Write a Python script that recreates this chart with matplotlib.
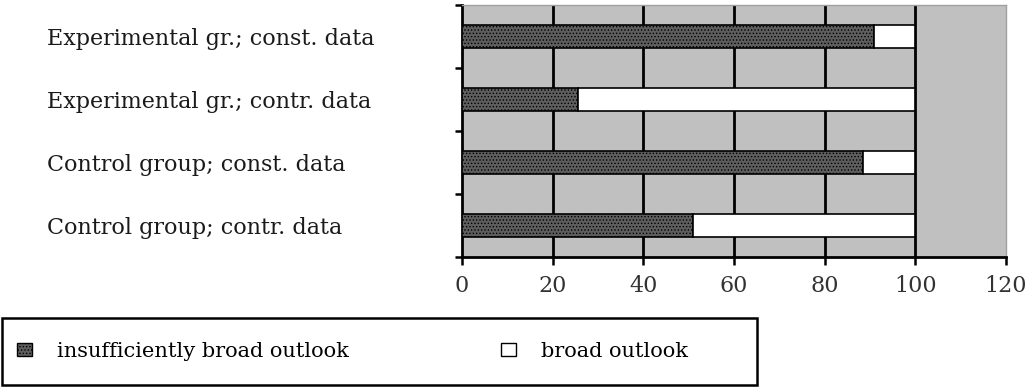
import matplotlib
matplotlib.use("Agg")
import matplotlib.pyplot as plt
from matplotlib.patches import Rectangle, Patch
import numpy as np

categories = ["Experimental gr.; const. data",
              "Experimental gr.; contr. data",
              "Control group; const. data",
              "Control group; contr. data"]
insufficient = [91, 25.5, 88.5, 51]
broad = [9, 74.5, 11.5, 49]
xticks = [0, 20, 40, 60, 80, 100, 120]
series_names = ["insufficiently broad outlook", "broad outlook"]

plt.rcParams['font.family'] = ['DejaVu Serif', 'Liberation Serif']
plt.rcParams['hatch.color'] = '#3a3a3a'
plt.rcParams['hatch.linewidth'] = 0.6

fig = plt.figure(figsize=(10.30, 3.87), dpi=100)
ax = fig.add_axes([0.4485, 0.336, 0.528, 0.651])
ax.set_facecolor('#c0c0c0')

n = len(categories)
pos = np.arange(n)[::-1].astype(float)  # top to bottom
h = 0.36

for x in xticks[1:-1]:
    ax.axvline(x, color='black', lw=2, zorder=1)

ax.barh(pos, insufficient, height=h, color='#5e5e5e', edgecolor='black',
        lw=1.2, hatch='.....', zorder=3)
ax.barh(pos, broad, left=insufficient, height=h, color='white',
        edgecolor='black', lw=1.2, zorder=3)

ax.set_xlim(0, 120)
ax.set_ylim(-0.5, n - 0.5)
ax.set_xticks(xticks)
ax.set_xticklabels([str(v) for v in xticks], fontsize=16, color='#333333')
ax.tick_params(axis='x', direction='out', length=6, width=1.8, pad=7)

bounds = np.arange(n + 1) - 0.5
ax.set_yticks(bounds)
ax.set_yticklabels([])
ax.set_yticks(pos, minor=True)
ax.set_yticklabels(categories, minor=True, fontsize=16, color='#1a1a1a', ha='left')
ax.tick_params(axis='y', which='major', direction='out', length=5, width=1.8)
ax.tick_params(axis='y', which='minor', length=0, pad=299)

for side in ['left', 'bottom']:
    ax.spines[side].set_linewidth(2)
    ax.spines[side].set_color('black')
for side in ['top', 'right']:
    ax.spines[side].set_color('#a0a0a0')
    ax.spines[side].set_linewidth(1)

# legend
fig.patches.append(Rectangle((0.002, 0.006), 0.733, 0.172, transform=fig.transFigure,
                             fill=False, edgecolor='black', lw=1.8))
handles = [Patch(facecolor='#5e5e5e', edgecolor='black', hatch='.....'),
           Patch(facecolor='white', edgecolor='black')]
fig.legend(handles, series_names, loc='center left', bbox_to_anchor=(-0.002, 0.092),
           ncol=2, frameon=False, fontsize=15, handlelength=0.72, handleheight=0.62,
           handletextpad=1.2, columnspacing=7.3, borderpad=0.4)

fig.savefig("out.png", dpi=100)
